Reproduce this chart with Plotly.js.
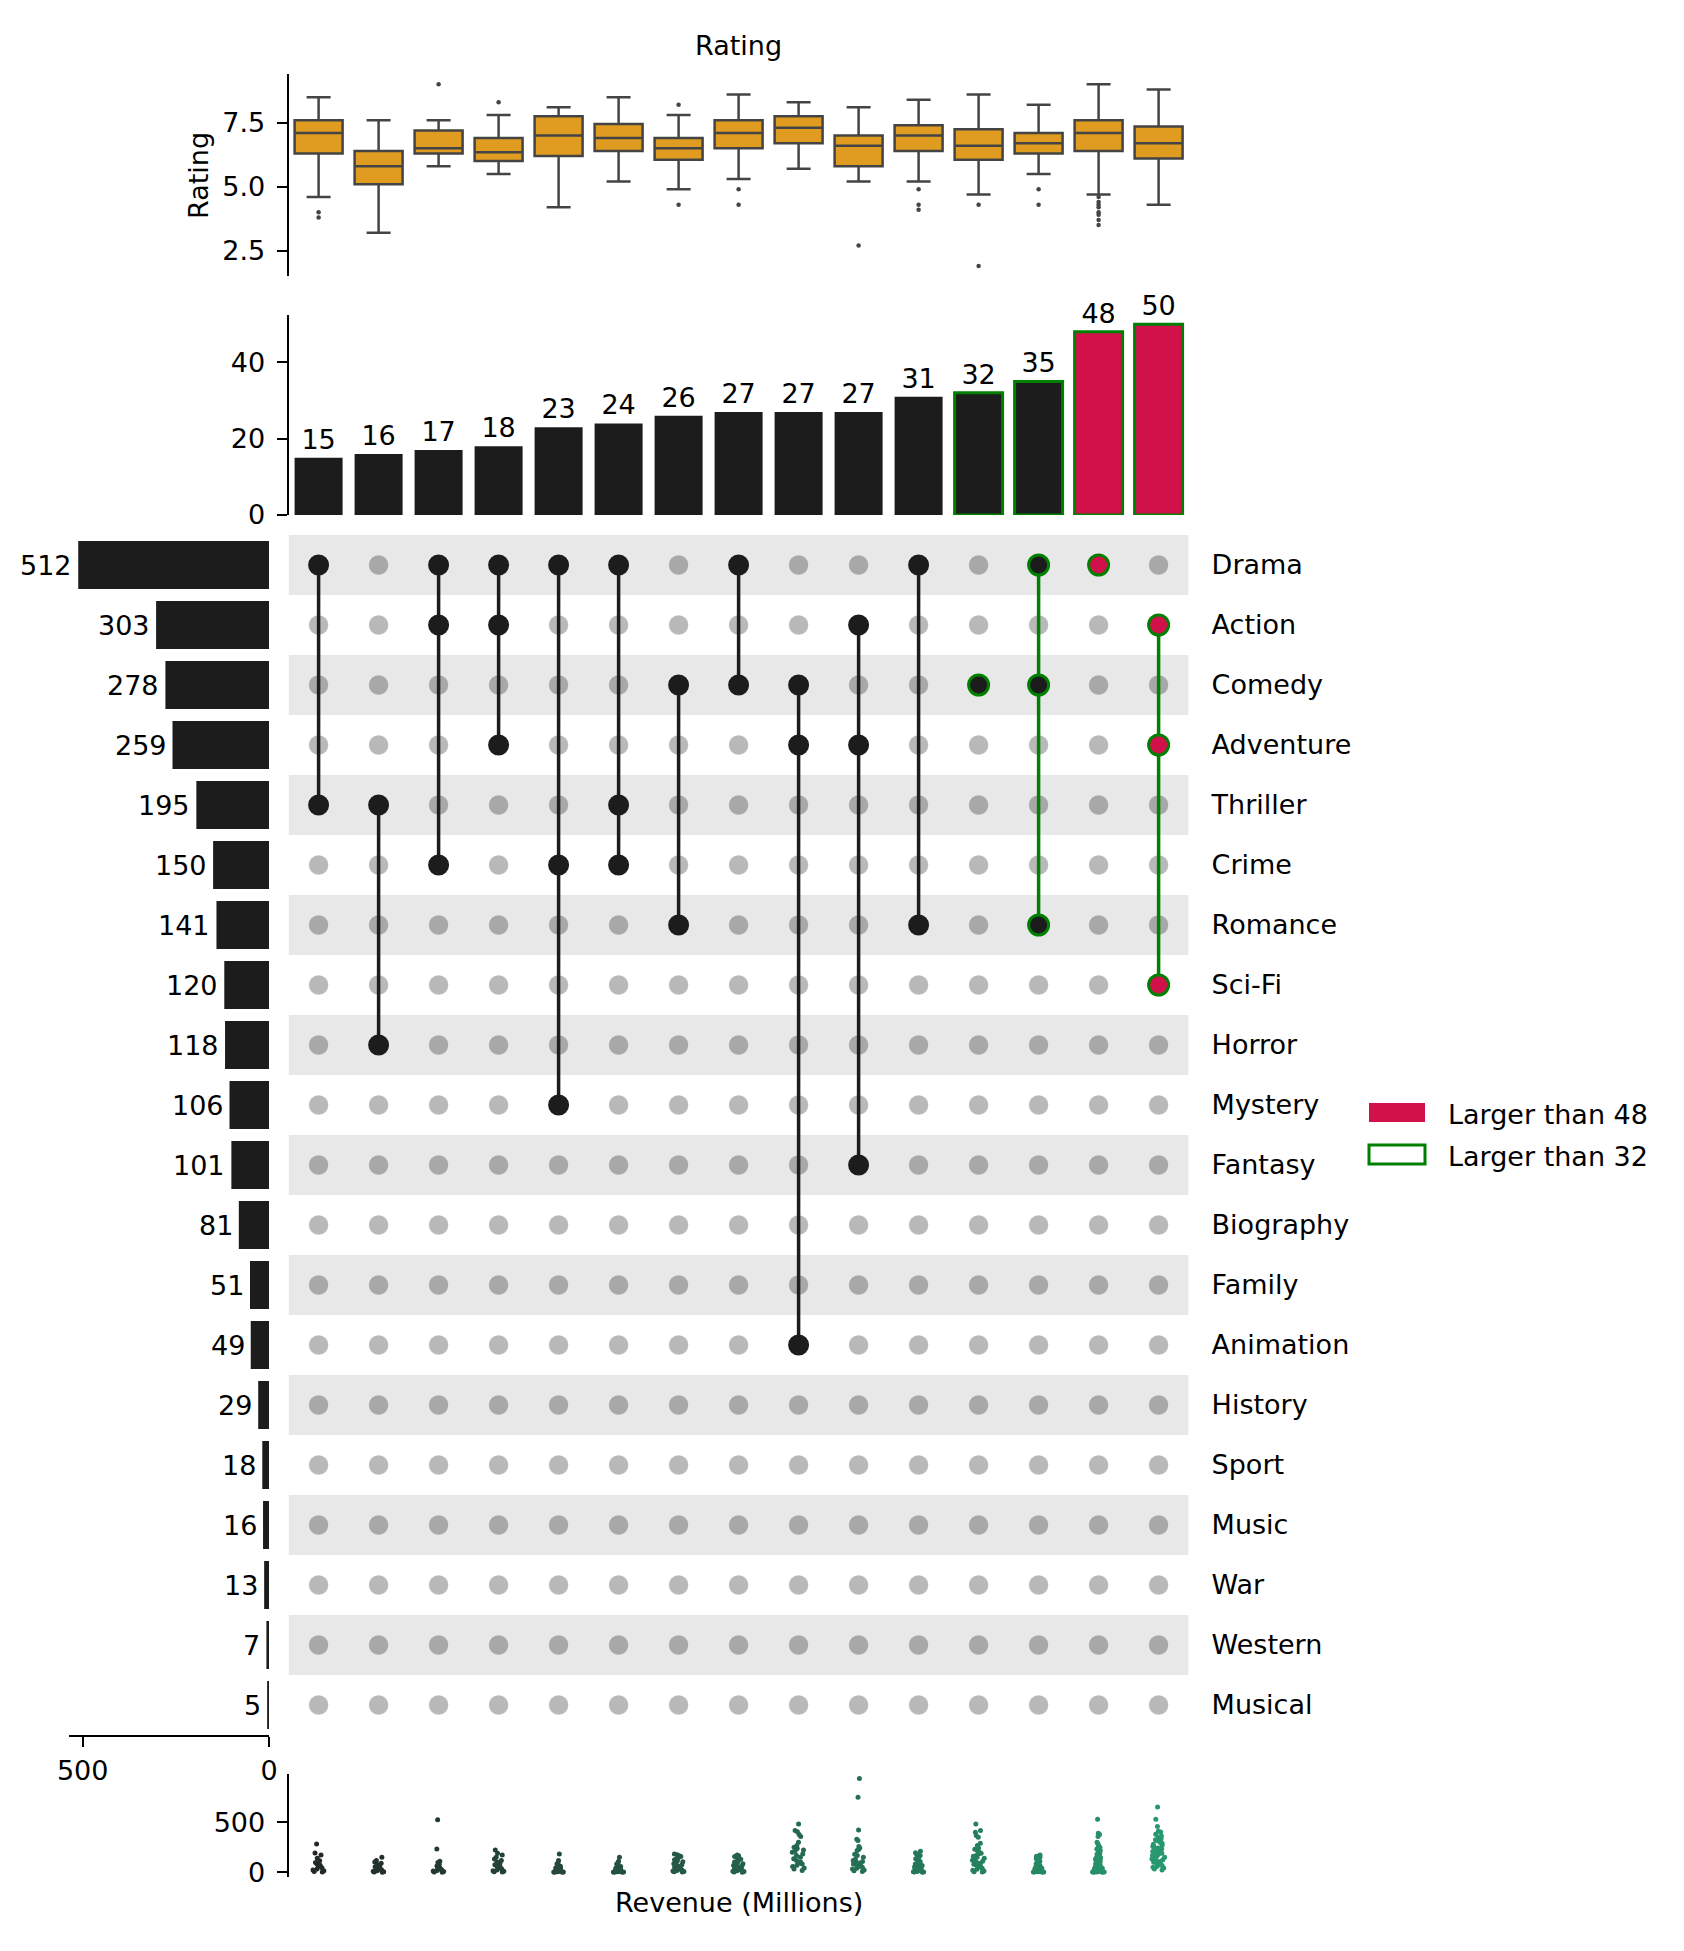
<!DOCTYPE html>
<html>
<head>
<meta charset="utf-8">
<script src="https://cdn.plot.ly/plotly-3.0.1.min.js"></script>
<style>
  html, body { margin: 0; padding: 0; background: #fff; }
  #chart { width: 1684px; height: 1951px; }
</style>
</head>
<body>
<div id="chart"></div>
<script>
// ---- Genre sets (rows of the matrix) ----
const genres = ['Drama', 'Action', 'Comedy', 'Adventure', 'Thriller', 'Crime', 'Romance',
  'Sci-Fi', 'Horror', 'Mystery', 'Fantasy', 'Biography', 'Family', 'Animation',
  'History', 'Sport', 'Music', 'War', 'Western', 'Musical'];
const genreTotals = [512, 303, 278, 259, 195, 150, 141, 120, 118, 106, 101, 81, 51, 49,
  29, 18, 16, 13, 7, 5];

// ---- Genre combinations (columns), sorted by size ----
const subsetMembers = [
  ['Drama', 'Thriller'],
  ['Thriller', 'Horror'],
  ['Drama', 'Action', 'Crime'],
  ['Drama', 'Action', 'Adventure'],
  ['Drama', 'Crime', 'Mystery'],
  ['Drama', 'Thriller', 'Crime'],
  ['Comedy', 'Romance'],
  ['Drama', 'Comedy'],
  ['Comedy', 'Adventure', 'Animation'],
  ['Action', 'Adventure', 'Fantasy'],
  ['Drama', 'Romance'],
  ['Comedy'],
  ['Drama', 'Comedy', 'Romance'],
  ['Drama'],
  ['Action', 'Adventure', 'Sci-Fi']
];
const subsetCounts = [15, 16, 17, 18, 23, 24, 26, 27, 27, 27, 31, 32, 35, 48, 50];

// Highlight thresholds: fill for the largest, outline for the larger ones
const fillThreshold = 48;
const edgeThreshold = 32;
const legendLabels = ['Larger than ' + fillThreshold, 'Larger than ' + edgeThreshold];

// ---- Rating summary per combination ----
const ratingQ1     = [6.3, 5.1, 6.3, 6.0, 6.2, 6.4, 6.05, 6.5, 6.7, 5.8, 6.4, 6.05, 6.3, 6.4, 6.1];
const ratingMedian = [7.1, 5.8, 6.5, 6.35, 7.0, 6.9, 6.5, 7.1, 7.3, 6.6, 7.0, 6.6, 6.7, 7.1, 6.7];
const ratingQ3     = [7.6, 6.4, 7.2, 6.9, 7.75, 7.45, 6.9, 7.6, 7.75, 7.0, 7.4, 7.25, 7.1, 7.6, 7.35];
const ratingLow    = [4.6, 3.2, 5.8, 5.5, 4.2, 5.2, 4.9, 5.3, 5.7, 5.2, 5.2, 4.7, 5.5, 4.7, 4.3];
const ratingHigh   = [8.5, 7.6, 7.6, 7.8, 8.1, 8.5, 7.8, 8.6, 8.3, 8.1, 8.4, 8.6, 8.2, 9.0, 8.8];
const ratingOutliers = [
  [4.0, 3.8], [], [9.0], [8.3], [], [], [8.2, 4.3], [4.9, 4.3], [], [2.7],
  [4.9, 4.3, 4.1], [4.3, 1.9], [4.9, 4.3],
  [4.6, 4.4, 4.3, 4.2, 4.0, 3.9, 3.7, 3.5], []
];

// ---- Revenue (millions) per combination ----
const revenue = [
  [283, 193, 173, 140, 115, 98, 84, 70, 58, 45, 34, 24, 15, 8, 2],
  [150, 118, 102, 90, 78, 66, 56, 47, 38, 30, 23, 16, 11, 6, 3, 1],
  [526, 233, 110, 98, 80, 64, 52, 44, 33, 26, 18, 12, 8, 4, 1],
  [224, 190, 172, 150, 134, 117, 104, 90, 76, 62, 52, 42, 33, 24, 16, 10, 5, 2],
  [183, 117, 95, 82, 70, 60, 52, 44, 37, 31, 26, 21, 17, 13, 10, 7, 5, 3, 2, 1, 0.5],
  [150, 110, 93, 82, 68, 57, 48, 40, 34, 28, 23, 19, 15, 12, 9, 7, 5, 3, 2, 1, 0.4],
  [183, 176, 166, 158, 148, 138, 126, 116, 106, 96, 86, 76, 67, 58, 50, 43, 36, 30, 24, 18, 13, 8, 5, 2],
  [173, 166, 158, 150, 141, 131, 121, 111, 102, 94, 86, 78, 70, 62, 55, 48, 42, 36, 30, 25, 20, 15, 11, 7, 4, 1],
  [484, 418, 406, 377, 357, 301, 268, 250, 239, 224, 211, 200, 184, 169, 151, 136, 118, 102, 91, 83, 70, 57, 44, 33, 17],
  [937, 750, 424, 331, 318, 258, 244, 229, 217, 181, 167, 150, 131, 118, 109, 101, 94, 84, 75, 67, 59, 50, 41, 33, 24, 16, 8],
  [210, 196, 184, 175, 167, 156, 146, 136, 126, 116, 106, 98, 90, 82, 75, 68, 61, 54, 47, 41, 35, 30, 25, 20, 16, 12, 9, 6, 4, 2, 1],
  [483, 417, 400, 368, 350, 290, 267, 244, 231, 217, 201, 190, 183, 171, 160, 150, 140, 130, 120, 110, 100, 91, 81, 71, 61, 51, 41, 31, 21, 12, 6, 2],
  [173, 161, 150, 139, 128, 118, 110, 101, 93, 86, 79, 73, 67, 61, 55, 50, 45, 40, 36, 32, 28, 24, 20, 17, 14, 11, 9, 7, 5, 4, 3, 2, 1],
  [530, 390, 377, 357, 301, 283, 267, 250, 233, 217, 200, 190, 180, 170, 160, 151, 141, 132, 125, 118, 110, 103, 96, 90, 84, 78, 72, 66, 60, 55, 50, 45, 40, 35, 31, 27, 23, 19, 16, 13, 10, 8, 6, 4, 3, 2, 1, 0.5],
  [652, 530, 458, 410, 402, 380, 363, 350, 334, 325, 317, 301, 290, 280, 267, 258, 250, 243, 233, 225, 217, 208, 200, 195, 190, 180, 173, 167, 160, 150, 142, 133, 125, 117, 108, 100, 92, 83, 75, 67, 58, 50, 42, 33, 23]
];

// ---- Styling ----
const W = 1684, H = 1951;
const FONT = 'DejaVu Sans';
const FS = 27;
const DARK = '#1c1c1c';
const RED = '#d0114a';
const GREEN = '#008000';
const BOX_FILL = '#df9c20';
const BOX_LINE = '#444444';
const stripColors = ['#222a26', '#23322b', '#233a31', '#234236', '#24493b', '#245140',
  '#245845', '#24604a', '#24684f', '#257054', '#257859', '#26805e', '#268863', '#279068', '#28986e'];

// pixel helpers for panel placement
const fx = px => px / W;
const fy = px => 1 - px / H;

const nCols = subsetCounts.length;
const colIdx = subsetCounts.map((_, i) => i);
const isFill = subsetCounts.map(c => c >= fillThreshold);
const isEdge = subsetCounts.map(c => c >= edgeThreshold);

const traces = [];

// Rating boxes
traces.push({
  type: 'box', xaxis: 'x', yaxis: 'y',
  x: colIdx, q1: ratingQ1, median: ratingMedian, q3: ratingQ3,
  lowerfence: ratingLow, upperfence: ratingHigh,
  width: 0.8, whiskerwidth: 0.5, boxpoints: false,
  fillcolor: BOX_FILL, line: { color: BOX_LINE, width: 2.5 },
  hoverinfo: 'skip'
});
const outX = [], outY = [];
ratingOutliers.forEach((arr, i) => arr.forEach(v => { outX.push(i); outY.push(v); }));
traces.push({
  type: 'scatter', mode: 'markers', xaxis: 'x', yaxis: 'y',
  x: outX, y: outY, marker: { size: 4.5, color: BOX_LINE, opacity: 1 },
  hoverinfo: 'skip'
});

// Intersection size bars
traces.push({
  type: 'bar', xaxis: 'x2', yaxis: 'y2',
  x: colIdx, y: subsetCounts, width: 0.8,
  marker: {
    color: isFill.map(f => f ? RED : DARK),
    line: { color: isEdge.map(e => e ? GREEN : DARK), width: isEdge.map(e => e ? 3 : 0) }
  },
  text: subsetCounts.map(String), textposition: 'outside', cliponaxis: false,
  constraintext: 'none',
  textfont: { family: FONT, size: FS, color: '#000' },
  hoverinfo: 'skip'
});

// Matrix: inactive dots, connectors, active dots
const offX = [], offY = [];
const onX = [], onY = [], onColor = [], onLine = [], onLineW = [], onSize = [];
const lineK = { x: [], y: [] }, lineG = { x: [], y: [] };
subsetMembers.forEach((members, i) => {
  const rows = [];
  genres.forEach((g, r) => {
    if (members.includes(g)) {
      onX.push(i); onY.push(g); rows.push(r);
      onColor.push(isFill[i] ? RED : DARK);
      onLine.push(isEdge[i] ? GREEN : DARK);
      onLineW.push(isEdge[i] ? 3 : 1.5);
      onSize.push(isEdge[i] ? 20 : 19.5);
    } else {
      offX.push(i); offY.push(g);
    }
  });
  if (rows.length > 1) {
    const tgt = isEdge[i] ? lineG : lineK;
    tgt.x.push(i, i, null);
    tgt.y.push(genres[Math.min(...rows)], genres[Math.max(...rows)], null);
  }
});
traces.push({
  type: 'scatter', mode: 'markers', xaxis: 'x3', yaxis: 'y3',
  x: offX, y: offY, marker: { size: 19.5, color: 'rgba(0,0,0,0.275)', opacity: 1 },
  hoverinfo: 'skip'
});
traces.push({
  type: 'scatter', mode: 'lines', xaxis: 'x3', yaxis: 'y3',
  x: lineK.x, y: lineK.y, line: { color: DARK, width: 3.5 }, connectgaps: false,
  hoverinfo: 'skip'
});
traces.push({
  type: 'scatter', mode: 'lines', xaxis: 'x3', yaxis: 'y3',
  x: lineG.x, y: lineG.y, line: { color: GREEN, width: 3.5 }, connectgaps: false,
  hoverinfo: 'skip'
});
traces.push({
  type: 'scatter', mode: 'markers', xaxis: 'x3', yaxis: 'y3',
  x: onX, y: onY,
  marker: { size: onSize, opacity: 1, color: onColor, line: { color: onLine, width: onLineW } },
  hoverinfo: 'skip'
});

// Genre totals (left bars)
traces.push({
  type: 'bar', orientation: 'h', xaxis: 'x5', yaxis: 'y5',
  x: genreTotals, y: genres, width: 0.8,
  marker: { color: DARK },
  hoverinfo: 'skip'
});

// Revenue strips (points jittered by the box trace)
revenue.forEach((vals, i) => {
  traces.push({
    type: 'box', xaxis: 'x4', yaxis: 'y4',
    x: vals.map(() => i), y: vals,
    width: 0.8, boxpoints: 'all', jitter: 0.3, pointpos: 0,
    fillcolor: 'rgba(0,0,0,0)', line: { width: 0, color: 'rgba(0,0,0,0)' },
    marker: { size: 5, color: stripColors[i], opacity: 1 },
    hoverinfo: 'skip'
  });
});

// ---- Axes ----
const matX = [fx(288.6), fx(1188.6)];
const colRange = [-0.5, nCols - 0.5];
const hiddenX = (anchor) => ({
  domain: matX, range: colRange, visible: false, anchor: anchor, fixedrange: true
});
const valueAxis = (dom, range, ticks, extra) => Object.assign({
  domain: dom, range: range, tickvals: ticks,
  showline: true, linecolor: '#000', linewidth: 2,
  ticks: 'outside', ticklen: 10, tickwidth: 2, tickcolor: '#000',
  ticklabelstandoff: 6,
  showgrid: false, zeroline: false,
  tickfont: { family: FONT, size: FS, color: '#000' }
}, extra || {});

// shaded alternate rows of the matrix
const shapes = [];
genres.forEach((g, r) => {
  if (r % 2 === 0) {
    shapes.push({
      type: 'rect', xref: 'x3', yref: 'y3', layer: 'below',
      x0: colRange[0], x1: colRange[1], y0: r - 0.5, y1: r + 0.5,
      fillcolor: 'rgba(0,0,0,0.09)', line: { width: 0 }
    });
  }
});

// legend patches
shapes.push({
  type: 'rect', xref: 'paper', yref: 'paper',
  x0: fx(1369), x1: fx(1425), y0: fy(1122), y1: fy(1103),
  fillcolor: RED, line: { width: 0 }
});
shapes.push({
  type: 'rect', xref: 'paper', yref: 'paper',
  x0: fx(1369), x1: fx(1425), y0: fy(1164), y1: fy(1145),
  fillcolor: '#fff', line: { color: GREEN, width: 3 }
});

const txtFont = { family: FONT, size: FS, color: '#000' };
const annotations = [
  { text: 'Rating', xref: 'paper', yref: 'paper', x: fx(199), y: fy(176),
    textangle: -90, showarrow: false, xanchor: 'center', yanchor: 'middle', font: txtFont },
  { text: 'Revenue (Millions)', xref: 'paper', yref: 'paper', x: fx(738.6), y: fy(1902),
    showarrow: false, xanchor: 'center', yanchor: 'middle', font: txtFont },
  { text: legendLabels[0], xref: 'paper', yref: 'paper', x: fx(1446), y: fy(1114),
    showarrow: false, xanchor: 'left', yanchor: 'middle', font: txtFont },
  { text: legendLabels[1], xref: 'paper', yref: 'paper', x: fx(1446), y: fy(1156),
    showarrow: false, xanchor: 'left', yanchor: 'middle', font: txtFont }
];
// value labels beside the genre total bars
genreTotals.forEach((v, i) => {
  annotations.push({
    text: String(v), xref: 'x5', yref: 'y5', x: v, y: genres[i],
    showarrow: false, xanchor: 'right', yanchor: 'middle', xshift: -4, font: txtFont
  });
});

const layout = {
  width: W, height: H,
  margin: { l: 0, r: 0, t: 0, b: 0, pad: 0 },
  paper_bgcolor: '#fff', plot_bgcolor: 'rgba(0,0,0,0)',
  showlegend: false,
  font: txtFont,
  title: { text: 'Rating', x: fx(738.6), y: fy(46), xref: 'paper', yref: 'container',
    xanchor: 'center', yanchor: 'middle', font: txtFont },
  boxmode: 'overlay',

  xaxis: hiddenX('y'),
  yaxis: valueAxis([fy(276.3), fy(74.1)], [1.5, 9.4], [2.5, 5, 7.5],
    { anchor: 'x', tickformat: '.1f' }),

  xaxis2: hiddenX('y2'),
  yaxis2: valueAxis([fy(515), fy(314.6)], [0, 52.5], [0, 20, 40], { anchor: 'x2' }),

  xaxis3: hiddenX('y3'),
  yaxis3: {
    domain: [fy(1735), fy(535)], anchor: 'x3', side: 'right',
    type: 'category', categoryorder: 'array', categoryarray: genres,
    range: [genres.length - 0.5, -0.5],
    showline: false, showgrid: false, zeroline: false, ticks: '',
    ticklabelstandoff: 22,
    tickfont: txtFont
  },

  xaxis4: hiddenX('y4'),
  yaxis4: valueAxis([fy(1877), fy(1773.9)], [-46.8, 983.5], [0, 500], { anchor: 'x4' }),

  xaxis5: valueAxis([fx(68.7), fx(269)], [537.6, 0], [0, 500],
    { anchor: 'y5', ticklabelstandoff: 1 }),
  yaxis5: {
    domain: [fy(1735), fy(535)], anchor: 'x5',
    type: 'category', categoryorder: 'array', categoryarray: genres,
    range: [genres.length - 0.5, -0.5], visible: false
  },

  shapes: shapes,
  annotations: annotations
};

Plotly.newPlot('chart', traces, layout, { staticPlot: true, displayModeBar: false });
</script>
</body>
</html>
